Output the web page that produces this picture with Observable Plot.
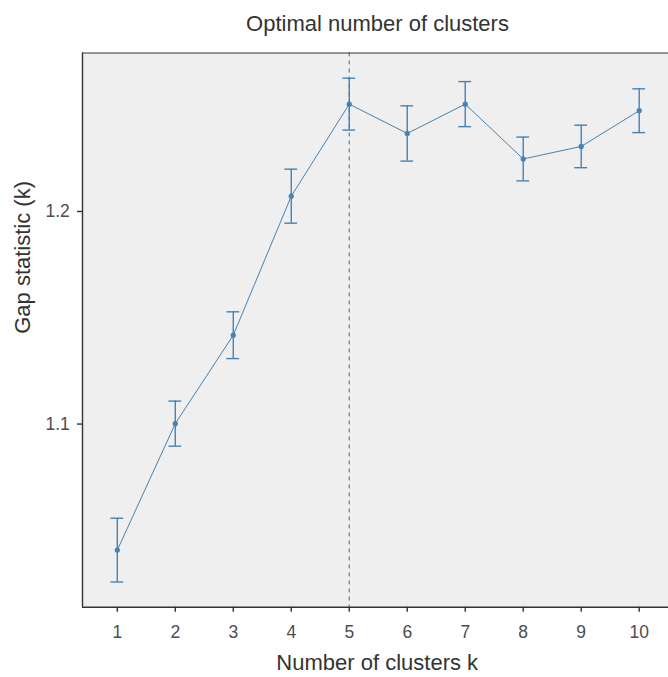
<!DOCTYPE html>
<html>
<head>
<meta charset="utf-8">
<script src="https://cdn.jsdelivr.net/npm/d3@7"></script>
<script src="https://cdn.jsdelivr.net/npm/@observablehq/plot@0.6"></script>
<style>
  html, body { margin: 0; padding: 0; background: #fff; }
</style>
</head>
<body>
<div id="chart"></div>
<script>
// Data
const clusters = [1, 2, 3, 4, 5, 6, 7, 8, 9, 10];
const gapValues = [1.0407, 1.1002, 1.1418, 1.2072, 1.2505, 1.2367, 1.2505, 1.2247, 1.2306, 1.2474];
const seValues = [0.0150, 0.0106, 0.0110, 0.0127, 0.0122, 0.0130, 0.0106, 0.0103, 0.0100, 0.0103];
const optimalK = 5;
const yTicks = [1.1, 1.2];
const titleText = "Optimal number of clusters";
const xTitle = "Number of clusters k";
const yTitle = "Gap statistic (k)";

const data = clusters.map((k, i) => ({k, gap: gapValues[i], se: seValues[i]}));

// ggplot-like 5% expansion on y, 0.6 units on discrete x
const lo = d3.min(data, d => d.gap - d.se);
const hi = d3.max(data, d => d.gap + d.se);
const pad = (hi - lo) * 0.05;
const yDomain = [lo - pad, hi + pad];
const xDomain = [clusters[0] - 0.6, clusters[clusters.length - 1] + 0.6];

const blue = "#4682B4";
const axisColor = "#333333";
const font = "'Liberation Sans', Arial, sans-serif";

const chart = Plot.plot({
  width: 668,
  height: 677,
  marginLeft: 82,
  marginRight: 0,
  marginTop: 52.5,
  marginBottom: 70.3,
  style: {fontFamily: font, fontSize: "17px", background: "#fff", overflow: "hidden"},
  x: {domain: xDomain, range: [82, 673.5]},
  y: {domain: yDomain, range: [606.7, 52.5]},
  marks: [
    Plot.frame({fill: "#EFEFEF", stroke: "none"}),
    Plot.ruleX([optimalK], {stroke: blue, strokeWidth: 1.2, strokeDasharray: "4,4"}),
    Plot.line(data, {x: "k", y: "gap", stroke: blue, strokeWidth: 1}),
    Plot.ruleX(data, {x: "k", y1: d => d.gap - d.se, y2: d => d.gap + d.se, stroke: blue, strokeWidth: 1.4}),
    Plot.ruleY(data, {y: d => d.gap - d.se, x1: d => d.k - 0.11, x2: d => d.k + 0.11, stroke: blue, strokeWidth: 1.4}),
    Plot.ruleY(data, {y: d => d.gap + d.se, x1: d => d.k - 0.11, x2: d => d.k + 0.11, stroke: blue, strokeWidth: 1.4}),
    Plot.dot(data, {x: "k", y: "gap", r: 2.6, fill: blue, stroke: "none"}),
    Plot.ruleX([xDomain[0]], {stroke: axisColor, strokeWidth: 1.4}),
    Plot.ruleY([yDomain[0]], {stroke: axisColor, strokeWidth: 1.4}),
    Plot.ruleY([yDomain[1]], {stroke: axisColor, strokeWidth: 1.2}),
    Plot.axisX({ticks: clusters, tickFormat: d3.format("d"), tickSize: 5, tickPadding: 13, label: null,
      stroke: axisColor, strokeWidth: 1.4, fill: "#4D4D4D", fontSize: 17.5}),
    Plot.axisY({ticks: yTicks, tickFormat: d3.format(".1f"), tickSize: 5, tickPadding: 7.7, label: null,
      stroke: axisColor, strokeWidth: 1.4, fill: "#4D4D4D", fontSize: 17.5}),
    Plot.text([titleText], {frameAnchor: "top", lineAnchor: "middle", dx: 2, dy: -29, fontSize: 22, fill: "#333333"}),
    Plot.text([xTitle], {frameAnchor: "bottom", lineAnchor: "middle", dx: 1.7, dy: 55.6, fontSize: 22, fill: "#333333"}),
    Plot.text([yTitle], {frameAnchor: "left", lineAnchor: "middle", rotate: -90, dx: -60, dy: 3.7, fontSize: 22, fill: "#333333"})
  ]
});

document.getElementById("chart").appendChild(chart);
</script>
</body>
</html>
